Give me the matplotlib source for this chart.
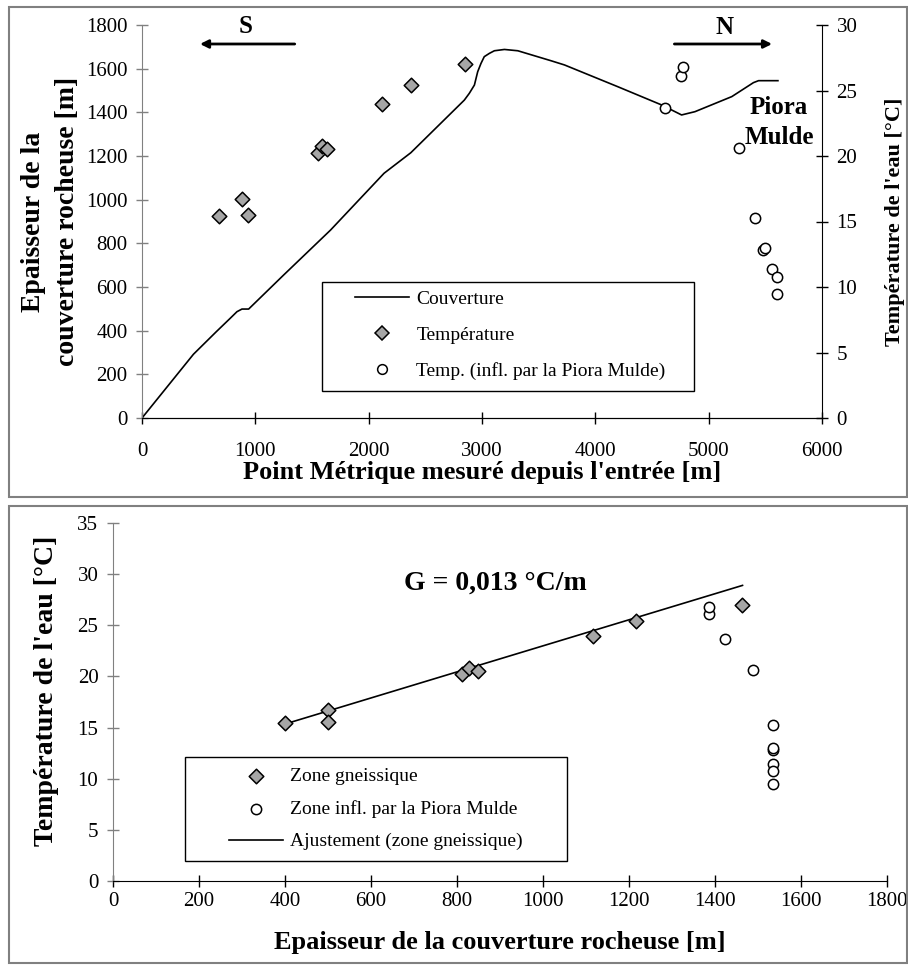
import matplotlib
matplotlib.use("Agg")
import matplotlib.pyplot as plt
from matplotlib.patches import Rectangle
from matplotlib.lines import Line2D

plt.rcParams['font.family'] = ['Liberation Serif', 'DejaVu Serif']

# Couverture rocheuse le long du tunnel
cov_pm = [0, 454, 655, 779, 838, 882, 941, 1250, 1664, 2136, 2372, 2844, 2888, 2933,
          2962, 2991, 3020, 3065, 3109, 3198, 3316, 3611, 3728, 4200, 4584, 4761,
          4879, 5204, 5395, 5440, 5611]
cov_h = [0, 292, 395, 457, 487, 499, 499, 655, 861, 1121, 1215, 1456, 1487, 1525,
         1586, 1624, 1655, 1670, 1682, 1688, 1682, 1636, 1617, 1517, 1434, 1388,
         1403, 1472, 1536, 1545, 1545]

# Zone gneissique
gneiss_pm = [675, 882, 932, 1552, 1590, 1628, 2121, 2372, 2850]
gneiss_thick = [401, 499, 499, 811, 829, 848, 1117, 1216, 1462]
gneiss_temp = [15.4, 16.7, 15.5, 20.2, 20.8, 20.5, 24.0, 25.4, 27.0]

# Zone influencée par la Piora Mulde
piora_pm = [4614, 4755, 4770, 5268, 5410, 5475, 5498, 5563, 5602, 5602]
piora_thick = [1423, 1387, 1387, 1489, 1536, 1536, 1536, 1536, 1536, 1536]
piora_temp = [23.7, 26.1, 26.8, 20.6, 15.3, 12.8, 13.0, 11.4, 10.8, 9.5]

# Ajustement (zone gneissique), extrémités
fit_thick = [408, 1464]
fit_temp = [15.45, 28.9]

gris = '#a6a6a6'
W, H = 908, 965
fig = plt.figure(figsize=(W / 100, H / 100), dpi=100)


def cadre(x0, y0, x1, y1, **kw):
    # rectangle en pixels (origine en haut à gauche)
    fig.add_artist(Rectangle((x0 / W, 1 - y1 / H), (x1 - x0) / W, (y1 - y0) / H,
                             transform=fig.transFigure, fill=False, **kw))


# cadres des deux graphiques
cadre(9, 7, 907, 497, edgecolor='#808080', lw=1.5)
cadre(9, 506, 907, 963, edgecolor='#808080', lw=1.5)


def style_axes(ax):
    ax.tick_params(direction='inout', length=9, width=1, labelsize=15)
    ax.tick_params(axis='y', pad=6)
    ax.spines['left'].set_color('#808080')
    ax.tick_params(axis='y', colors='#808080', labelcolor='black')


# ---- graphique du haut ----
ax1 = fig.add_axes([142 / W, 1 - 418 / H, 680 / W, 393 / H])
ax1.plot(cov_pm, cov_h, color='black', lw=1.2, label='Couverture')
ax1.set_xlim(0, 6000)
ax1.set_ylim(0, 1800)
ax1.set_xticks(range(0, 6001, 1000))
ax1.set_yticks(range(0, 1801, 200))
ax1.spines['top'].set_visible(False)
ax1.spines['right'].set_visible(False)
style_axes(ax1)
ax1.tick_params(axis='x', pad=13)
ax1.set_xlabel("Point Métrique mesuré depuis l'entrée [m]", fontsize=19,
               fontweight='bold', labelpad=0)
ax1.set_ylabel("Epaisseur de la\ncouverture rocheuse [m]", fontsize=20,
               fontweight='bold', labelpad=4, linespacing=1.5)

ax2 = ax1.twinx()
ax2.scatter(gneiss_pm, gneiss_temp, marker='D', s=55, facecolor=gris,
            edgecolor='black', linewidths=1.1, zorder=3)
ax2.scatter(piora_pm, piora_temp, marker='o', s=55, facecolor='white',
            edgecolor='black', linewidths=1.1, zorder=3)
ax2.set_ylim(0, 30)
ax2.set_yticks(range(0, 31, 5))
ax2.tick_params(direction='inout', length=9, width=1, labelsize=15, pad=6)
ax2.spines['top'].set_visible(False)
ax2.spines['left'].set_visible(False)
ax2.set_ylabel("Température de l'eau [°C]", fontsize=16, fontweight='bold',
               labelpad=20)

ax1.annotate('', xy=(487, 1713), xytext=(1372, 1713),
             arrowprops=dict(arrowstyle='-|>', color='black', lw=2, mutation_scale=12))
ax1.text(912, 1795, 'S', ha='center', va='center', fontsize=18, fontweight='bold')
ax1.annotate('', xy=(5584, 1713), xytext=(4673, 1713),
             arrowprops=dict(arrowstyle='-|>', color='black', lw=2, mutation_scale=12))
ax1.text(5142, 1790, 'N', ha='center', va='center', fontsize=18, fontweight='bold')
ax1.text(5620, 1355, 'Piora\nMulde', ha='center', va='center', fontsize=18,
         fontweight='bold', linespacing=1.4)

h_top = [Line2D([], [], color='black', lw=1.2),
         Line2D([], [], marker='D', ls='none', markersize=7, markerfacecolor=gris,
                markeredgecolor='black', markeredgewidth=1.1),
         Line2D([], [], marker='o', ls='none', markersize=7, markerfacecolor='white',
                markeredgecolor='black', markeredgewidth=1.1)]
ax2.legend(h_top, ['Couverture', 'Température', 'Temp. (infl. par la Piora Mulde)'],
           loc='upper left', bbox_to_anchor=(355 / W, 1 - 290 / H),
           bbox_transform=fig.transFigure, fontsize=14, frameon=False,
           handlelength=2.8, labelspacing=0.95, borderpad=0, borderaxespad=0,
           handletextpad=0.35)
cadre(322, 282, 694, 391, edgecolor='black', lw=1)

# ---- graphique du bas ----
ax3 = fig.add_axes([113 / W, 1 - 881 / H, 774 / W, 358 / H])
ax3.scatter(gneiss_thick, gneiss_temp, marker='D', s=55, facecolor=gris,
            edgecolor='black', linewidths=1.1, zorder=3, label='Zone gneissique')
ax3.scatter(piora_thick, piora_temp, marker='o', s=55, facecolor='white',
            edgecolor='black', linewidths=1.1, zorder=3,
            label='Zone infl. par la Piora Mulde')
ax3.plot(fit_thick, fit_temp, color='black', lw=1.2,
         label='Ajustement (zone gneissique)')
ax3.set_xlim(0, 1800)
ax3.set_ylim(0, 35)
ax3.set_xticks(range(0, 1801, 200))
ax3.set_yticks(range(0, 36, 5))
ax3.spines['top'].set_visible(False)
ax3.spines['right'].set_visible(False)
style_axes(ax3)
ax3.set_xlabel("Epaisseur de la couverture rocheuse [m]", fontsize=19,
               fontweight='bold', labelpad=14)
ax3.set_ylabel("Température de l'eau [°C]", fontsize=20, fontweight='bold',
               labelpad=13)
ax3.yaxis.label.set_y(0.53)
ax3.text(890, 29.1, 'G = 0,013 °C/m', ha='center', va='center', fontsize=20,
         fontweight='bold')

ax3.legend(loc='upper left', bbox_to_anchor=(229 / W, 1 - 767 / H),
           bbox_transform=fig.transFigure, fontsize=14, frameon=False,
           handlelength=2.8, labelspacing=0.78, borderpad=0, borderaxespad=0,
           handletextpad=0.35)
cadre(185, 757, 567, 861, edgecolor='black', lw=1)

fig.savefig('out.png', dpi=100)
